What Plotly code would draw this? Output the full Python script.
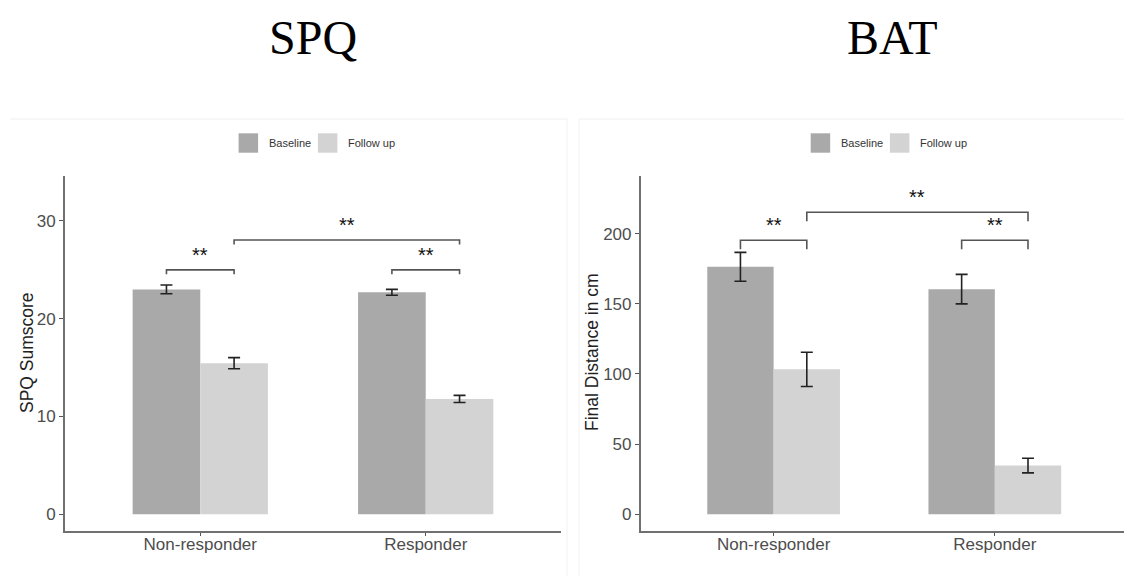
import plotly.graph_objects as go

# ---------------- data ----------------
categories = ["Non-responder", "Responder"]
series_names = ["Baseline", "Follow up"]
series_colors = ["#A9A9A9", "#D3D3D3"]

spq_baseline = [23.0, 22.7]
spq_baseline_err = [0.45, 0.30]
spq_followup = [15.45, 11.8]
spq_followup_err = [0.57, 0.36]

bat_baseline = [176.3, 160.4]
bat_baseline_err = [10.3, 10.5]
bat_followup = [103.3, 34.7]
bat_followup_err = [12.2, 5.2]

spq_ticks = [0, 10, 20, 30]
bat_ticks = [0, 50, 100, 150, 200]

panel_titles = ["SPQ", "BAT"]
y_titles = ["SPQ Sumscore", "Final Distance in cm"]

# significance brackets: (group_from, series_from, group_to, series_to, level, label)
spq_sig = [(0, 0, 0, 1, 25.0, "**"), (0, 1, 1, 1, 28.05, "**"), (1, 0, 1, 1, 25.0, "**")]
bat_sig = [(0, 0, 0, 1, 195.2, "**"), (0, 1, 1, 1, 215.2, "**"), (1, 0, 1, 1, 195.2, "**")]
spq_tip = 0.45
bat_tip = 6.4

# ---------------- layout helpers ----------------
W, H = 1124, 576
BAR_W = 0.3  # each bar width in category units (bargap 0.4, 2 bars)


def px(x):
    return x / W


def py(y):
    return 1 - y / H


FONT = "Liberation Sans, Arial, sans-serif"
SERIF = "Liberation Serif, Times New Roman, serif"

fig = go.Figure()

xs = list(range(len(categories)))
panels = [
    ("x", "y", [spq_baseline, spq_followup], [spq_baseline_err, spq_followup_err]),
    ("x2", "y2", [bat_baseline, bat_followup], [bat_baseline_err, bat_followup_err]),
]
for xa, ya, vals, errs in panels:
    for i, name in enumerate(series_names):
        fig.add_trace(go.Bar(
            x=xs, y=vals[i], name=name, xaxis=xa, yaxis=ya,
            offsetgroup=str(i), marker=dict(color=series_colors[i], line=dict(width=0)),
            error_y=dict(type="data", array=errs[i], visible=True,
                         color="#222222", thickness=1.6, width=6),
            showlegend=False,
        ))

shapes = []
annotations = []

# significance brackets
for xa, ya, sig, tip in [("x", "y", spq_sig, spq_tip), ("x2", "y2", bat_sig, bat_tip)]:
    for g0, s0, g1, s1, lev, lab in sig:
        x0 = g0 + (s0 - 0.5) * BAR_W
        x1 = g1 + (s1 - 0.5) * BAR_W
        shapes.append(dict(
            type="path", xref=xa, yref=ya,
            path=f"M {x0},{lev - tip} L {x0},{lev} L {x1},{lev} L {x1},{lev - tip}",
            line=dict(color="#555555", width=1.6),
        ))
        annotations.append(dict(
            x=(x0 + x1) / 2, y=lev, xref=xa, yref=ya, text=lab, showarrow=False,
            yanchor="middle", yshift=15,
            font=dict(family=FONT, size=20, color="#111111"),
        ))

# faint panel frames (image borders in reference)
for x0, x1 in [(10, 567), (579, 1124)]:
    shapes.append(dict(type="line", xref="paper", yref="paper", x0=px(x0), x1=px(x1),
                       y0=py(119), y1=py(119), line=dict(color="#f0f0f0", width=1), layer="below"))
for xv in [567, 579]:
    shapes.append(dict(type="line", xref="paper", yref="paper", x0=px(xv), x1=px(xv),
                       y0=py(119), y1=0, line=dict(color="#f2f2f2", width=1), layer="below"))

# manual legends (ggplot-style, top)
legend_layout = [
    # box1_x, text1_x, box2_x, text2_x
    (238.6, 267.0, 317.9, 346.4),
    (810.7, 838.8, 889.9, 917.9),
]
for b1, t1, b2, t2 in legend_layout:
    for bx, tx, name, col in [(b1, t1, series_names[0], series_colors[0]),
                              (b2, t2, series_names[1], series_colors[1])]:
        shapes.append(dict(type="rect", xref="paper", yref="paper",
                           x0=px(bx), x1=px(bx + 19.5), y0=py(152.7), y1=py(133.3),
                           fillcolor=col, line=dict(width=0)))
        annotations.append(dict(x=px(tx), y=py(143), xref="paper", yref="paper",
                                text=name, showarrow=False, xanchor="left", yanchor="middle",
                                font=dict(family=FONT, size=11, color="#333333")))

# panel titles
for tx, t in [(312.8, panel_titles[0]), (892.5, panel_titles[1])]:
    annotations.append(dict(x=px(tx), y=py(38), xref="paper", yref="paper", text=t,
                            showarrow=False, xanchor="center", yanchor="middle",
                            font=dict(family=SERIF, size=48, color="#000000")))

# y axis titles
for tx, tyc, t in [(27, 353, y_titles[0]), (592, 352, y_titles[1])]:
    annotations.append(dict(x=px(tx), y=py(tyc), xref="paper", yref="paper", text=t,
                            showarrow=False, textangle=-90, xanchor="center", yanchor="middle",
                            font=dict(family=FONT, size=17.5, color="#222222")))

axis_common = dict(showline=True, linecolor="#707070", linewidth=2, showgrid=False,
                   zeroline=False, ticks="outside", ticklen=4, tickwidth=1,
                   tickcolor="#555555", tickfont=dict(family=FONT, size=17, color="#4d4d4d"))
xaxis_extra = dict(ticklabelstandoff=-6, ticklen=3)

ydom = [py(530.7), py(176)]
fig.update_layout(
    width=W, height=H, margin=dict(l=0, r=0, t=0, b=0),
    paper_bgcolor="white", plot_bgcolor="white",
    barmode="group", bargap=0.4, bargroupgap=0,
    showlegend=False,
    xaxis=dict(domain=[px(65), px(561)], range=[-0.6, 1.6], tickvals=xs, ticktext=categories,
               anchor="y", **{**axis_common, **xaxis_extra}),
    yaxis=dict(domain=ydom, range=[-1.68, 34.6], tickvals=spq_ticks, anchor="x", **axis_common),
    xaxis2=dict(domain=[px(640.9), 1.0], range=[-0.6, 1.584], tickvals=xs, ticktext=categories,
                anchor="y2", **{**axis_common, **xaxis_extra}),
    yaxis2=dict(domain=ydom, range=[-11.67, 241.0], tickvals=bat_ticks, anchor="x2", **axis_common),
    shapes=shapes,
    annotations=annotations,
)

fig.write_html("out.html", config={"displayModeBar": False},
               post_script="document.body.style.margin='0px';")
